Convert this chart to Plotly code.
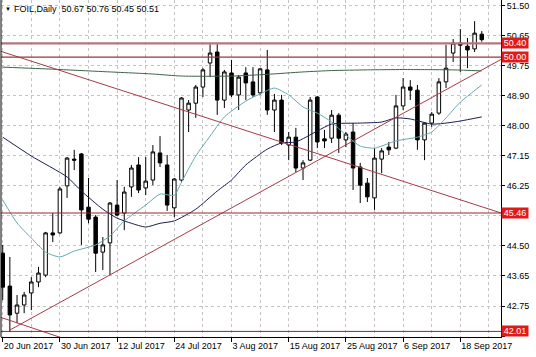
import pandas as pd
import plotly.graph_objects as go

# ---------------- data ----------------
symbol_title = "FOIL,Daily  50.67 50.76 50.45 50.51"
dates = pd.bdate_range("2017-06-20", "2017-09-21")  # 68 daily bars

opens = [44.29, 43.33, 42.54, 42.78, 43.13, 43.45, 43.65, 44.88, 44.88, 46.25,
         47.03, 47.18, 45.63, 45.34, 44.32, 44.59, 45.69, 45.46, 46.22, 46.86,
         46.19, 46.42, 47.21, 46.86, 45.61, 46.42, 48.46, 48.66, 49.13, 49.83,
         50.15, 48.75, 49.54, 48.90, 49.54, 49.28, 48.96, 49.63, 48.46, 48.75,
         47.44, 47.67, 46.77, 47.00, 48.84, 47.62, 47.64, 48.31, 47.59, 47.82,
         46.80, 46.33, 45.90, 47.03, 47.38, 47.35, 48.58, 49.13, 49.04, 47.59,
         48.08, 48.37, 49.28, 50.12, 50.41, 50.32, 50.24, 50.67]
highs = [44.53, 44.18, 43.07, 43.16, 43.59, 43.89, 44.91, 45.46, 46.22, 47.09,
         47.30, 47.21, 46.48, 45.40, 44.76, 45.78, 46.42, 46.22, 46.86, 47.09,
         47.09, 47.44, 47.70, 47.15, 46.48, 48.84, 48.75, 49.19, 49.68, 50.38,
         50.38, 49.63, 49.92, 49.48, 49.71, 49.71, 49.68, 50.21, 48.93, 48.90,
         47.82, 47.94, 47.00, 48.84, 48.87, 47.88, 48.46, 48.37, 47.82, 48.08,
         46.92, 46.48, 47.35, 47.35, 47.53, 48.90, 49.39, 49.33, 49.19, 48.11,
         48.40, 49.39, 50.36, 50.53, 50.82, 50.56, 51.05, 50.76]
lows = [42.92, 41.99, 42.25, 42.54, 42.63, 43.30, 43.59, 44.61, 44.85, 45.90,
        46.71, 44.53, 45.16, 43.74, 43.80, 43.65, 45.37, 44.96, 45.93, 46.04,
        45.98, 46.27, 46.80, 45.52, 45.34, 46.36, 47.82, 48.23, 48.84, 49.42,
        48.32, 48.52, 48.84, 48.46, 48.75, 48.84, 48.90, 48.32, 47.82, 47.44,
        47.00, 46.65, 46.42, 46.97, 47.35, 47.35, 47.50, 47.21, 47.38, 46.13,
        45.75, 45.78, 45.55, 46.62, 47.15, 47.32, 48.46, 48.75, 47.30, 47.00,
        47.97, 48.32, 49.10, 49.86, 49.57, 49.68, 50.15, 50.45]
closes = [43.30, 42.49, 42.78, 43.07, 43.45, 43.71, 44.88, 44.82, 46.16, 47.06,
          47.00, 45.55, 45.28, 44.29, 44.53, 45.75, 45.40, 46.07, 46.77, 46.13,
          46.39, 47.24, 46.92, 45.69, 46.45, 48.81, 48.66, 49.13, 49.63, 50.12,
          48.75, 49.57, 48.90, 49.42, 49.25, 48.90, 49.66, 48.46, 48.75, 47.50,
          47.67, 46.77, 46.92, 48.75, 47.53, 47.56, 48.31, 47.64, 47.76, 46.77,
          46.27, 45.93, 47.06, 47.27, 47.30, 48.58, 49.13, 49.04, 47.59, 48.08,
          48.34, 49.28, 49.68, 50.41, 50.35, 50.21, 50.70, 50.51]

# moving averages (bar index, value)
ma_fast_bar = [0, 2, 4, 6, 8, 10, 13, 15, 17, 20, 22, 24, 25, 27, 29, 31, 34, 36, 38,
               40, 42, 44, 46, 48, 50, 52, 55, 58, 60, 62, 64, 67]
ma_fast_val = [45.84, 45.17, 44.73, 44.32, 44.18, 44.35, 44.53, 44.79, 45.23, 45.69,
               46.01, 45.98, 46.36, 47.12, 47.70, 48.26, 48.72, 48.93, 49.10, 48.90,
               48.55, 48.37, 48.11, 47.73, 47.41, 47.35, 47.56, 47.67, 47.82, 48.23,
               48.69, 49.19]
ma_mid_bar = [0, 4, 9, 11, 14, 16, 18, 20, 22, 24, 27, 30, 32, 34, 37, 39, 41, 44, 46,
              50, 53, 55, 57, 60, 62, 64, 67]
ma_mid_val = [47.67, 47.12, 46.51, 46.10, 45.57, 45.31, 45.16, 45.05, 45.16, 45.23,
              45.57, 46.10, 46.42, 46.86, 47.32, 47.50, 47.53, 47.85, 48.05, 48.08,
              48.11, 48.23, 48.20, 48.05, 48.08, 48.14, 48.26]
ma_slow_bar = [0, 7, 14, 21, 25, 32, 37, 42, 46, 51, 56, 63, 67]
ma_slow_val = [49.71, 49.65, 49.58, 49.51, 49.45, 49.45, 49.50, 49.57, 49.61, 49.63,
               49.64, 49.63, 49.60]

# horizontal levels
levels = [50.40, 50.00, 45.46, 42.01]
level_labels = ["50.40", "50.00", "45.46", "42.01"]

# trend lines (bar index, price) anchors
trend_down_bar, trend_down_val = [-1, 70], [50.22, 45.44]
trend_down2_bar, trend_down2_val = [-1, 10], [42.47, 41.70]
trend_up_bar, trend_up_val = [1, 70], [42.05, 49.97]

# price axis ticks (labels under the level boxes are hidden in the original)
ytick_vals = [51.500, 50.625, 49.750, 48.875, 48.000, 47.125, 46.250, 45.375,
              44.500, 43.625, 42.750, 41.875]
ytick_text = ["51.50", "50.65", "49.75", "48.90", "48.00", "47.15", "46.25", "",
              "44.50", "43.65", "42.75", ""]
xlabel_every = 8
xgrid_every = 4

# ---------------- figure ----------------
x = list(range(len(dates)))
FONT = "Liberation Sans"
MAROON = "rgb(165,60,70)"

fig = go.Figure()

fig.add_trace(go.Candlestick(
    x=x, open=opens, high=highs, low=lows, close=closes,
    increasing=dict(line=dict(color="black", width=1), fillcolor="white"),
    decreasing=dict(line=dict(color="black", width=1), fillcolor="black"),
    whiskerwidth=0, showlegend=False, hoverinfo="skip"))

line_specs = [
    (ma_slow_bar, ma_slow_val, "rgb(60,100,70)", 1),
    (ma_mid_bar, ma_mid_val, "rgb(25,30,80)", 1),
    (ma_fast_bar, ma_fast_val, "rgb(100,170,175)", 1),
    (trend_down_bar, trend_down_val, MAROON, 1),
    (trend_down2_bar, trend_down2_val, MAROON, 1),
    (trend_up_bar, trend_up_val, MAROON, 1),
]
for bx, by, col, w in line_specs:
    fig.add_trace(go.Scatter(x=bx, y=by, mode="lines",
                             line=dict(color=col, width=w, shape="spline", smoothing=0.6),
                             showlegend=False, hoverinfo="skip"))

# horizontal levels
lvl_styles = {50.40: ("rgb(175,120,125)", 2.2), 50.00: ("rgb(150,55,60)", 1.3),
              45.46: ("rgb(150,40,45)", 1), 42.01: ("rgb(150,40,45)", 1)}
for lv in levels:
    col, w = lvl_styles[lv]
    fig.add_trace(go.Scatter(x=[-5, 80], y=[lv, lv], mode="lines",
                             line=dict(color=col, width=w), showlegend=False, hoverinfo="skip"))

for lv, txt in zip(levels, level_labels):
    fig.add_annotation(x=1, xref="paper", y=lv, yref="y", text=txt, showarrow=False,
                       xanchor="left", yanchor="middle", xshift=0,
                       bgcolor="rgb(225,25,25)", width=26, height=10, borderpad=0,
                       font=dict(family=FONT, size=9, color="white"), align="center")

fig.add_annotation(x=0, xref="paper", y=1, yref="paper", text="▼", showarrow=False,
                   xanchor="left", yanchor="top", xshift=2, yshift=-4,
                   font=dict(family=FONT, size=6, color="black"))
fig.add_annotation(x=0, xref="paper", y=1, yref="paper", text=symbol_title, showarrow=False,
                   xanchor="left", yanchor="top", xshift=11, yshift=-2,
                   font=dict(family=FONT, size=9, color="black"))

# left border
fig.add_shape(type="line", xref="paper", yref="paper", x0=0, x1=0, y0=0, y1=1,
              line=dict(color="black", width=1))

xtick_vals = x[::xlabel_every]
xtick_text = [f"{d.day} {d.strftime('%b %Y')}" for d in dates[::xlabel_every]]
xgrid_vals = [v for v in x[::xgrid_every] if v not in xtick_vals] + [68]

fig.update_layout(
    width=536, height=357,
    margin=dict(l=1, r=35, t=0, b=20, autoexpand=False),
    paper_bgcolor="white", plot_bgcolor="white",
    font=dict(family=FONT, size=9, color="black"),
    showlegend=False,
    xaxis=dict(range=[-0.24, 69.69], rangeslider=dict(visible=False),
               tickmode="array", tickvals=xtick_vals, ticktext=xtick_text,
               tickangle=0, automargin=False,
               ticks="outside", ticklen=4, tickcolor="black",
               ticklabelposition="outside right",
               showline=True, linecolor="black", linewidth=1,
               showgrid=True, gridcolor="rgb(195,195,195)", griddash="3px,3px", gridwidth=1,
               minor=dict(tickvals=xgrid_vals, showgrid=True, gridcolor="rgb(195,195,195)",
                          griddash="3px,3px", ticklen=0),
               zeroline=False, fixedrange=True),
    yaxis=dict(range=[41.847, 51.666], side="right", automargin=False,
               tickmode="array", tickvals=ytick_vals, ticktext=ytick_text,
               ticks="outside", ticklen=3, tickcolor="black",
               showline=True, linecolor="black", linewidth=1,
               showgrid=True, gridcolor="rgb(195,195,195)", griddash="3px,3px", gridwidth=1,
               zeroline=False, fixedrange=True),
)

fig.write_html("out.html")
